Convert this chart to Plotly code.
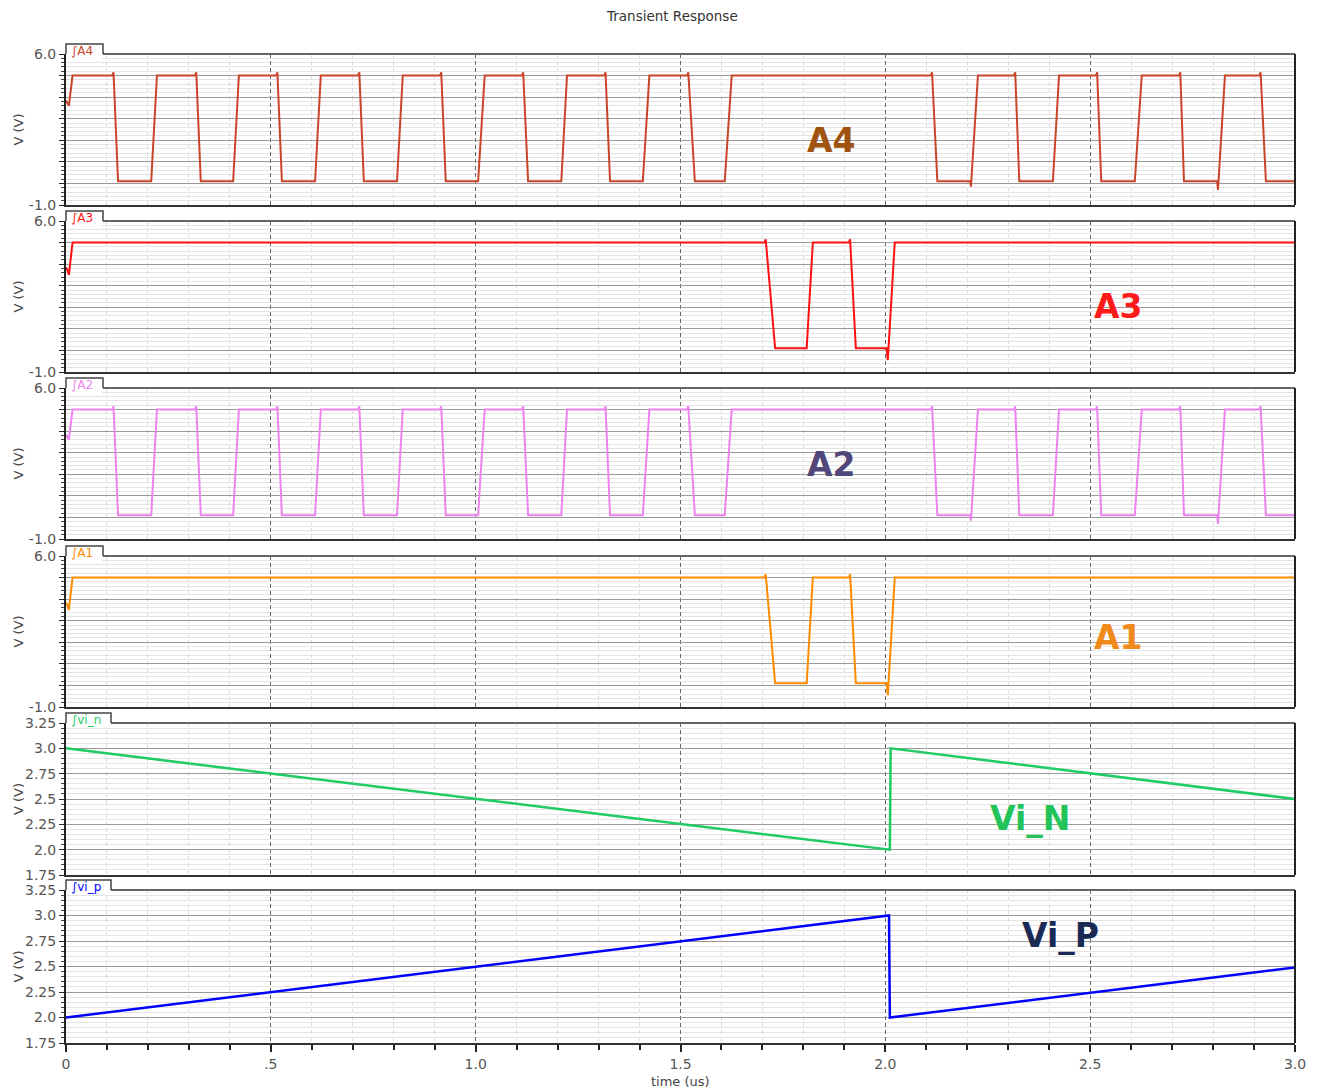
import plotly.graph_objects as go
from plotly.subplots import make_subplots

# ---------------- data ----------------
time_ticks = [0, 0.5, 1.0, 1.5, 2.0, 2.5, 3.0]
time_ticktext = ["0", ".5", "1.0", "1.5", "2.0", "2.5", "3.0"]

A4_t = [0.0, 0.004, 0.007, 0.016,
        0.113, 0.116, 0.127, 0.208, 0.222,
        0.315, 0.318, 0.329, 0.408, 0.422,
        0.513, 0.516, 0.527, 0.608, 0.622,
        0.713, 0.716, 0.727, 0.808, 0.822,
        0.913, 0.916, 0.927, 1.006, 1.022,
        1.113, 1.116, 1.128, 1.209, 1.223,
        1.314, 1.317, 1.328, 1.408, 1.424,
        1.516, 1.519, 1.535, 1.608, 1.625,
        2.111, 2.114, 2.127, 2.207, 2.209, 2.226,
        2.314, 2.317, 2.327, 2.409, 2.424,
        2.514, 2.517, 2.527, 2.609, 2.626,
        2.717, 2.720, 2.729, 2.810, 2.812, 2.829,
        2.913, 2.916, 2.929, 3.0]
A4_v = [3.85, 3.7, 3.6, 5.0,
        5.0, 5.15, 0.1, 0.1, 5.0,
        5.0, 5.15, 0.1, 0.1, 5.0,
        5.0, 5.15, 0.1, 0.1, 5.0,
        5.0, 5.15, 0.1, 0.1, 5.0,
        5.0, 5.15, 0.1, 0.1, 5.0,
        5.0, 5.15, 0.1, 0.1, 5.0,
        5.0, 5.15, 0.1, 0.1, 5.0,
        5.0, 5.15, 0.1, 0.1, 5.0,
        5.0, 5.15, 0.1, 0.1, -0.15, 5.0,
        5.0, 5.15, 0.1, 0.1, 5.0,
        5.0, 5.15, 0.1, 0.1, 5.0,
        5.0, 5.15, 0.1, 0.1, -0.3, 5.0,
        5.0, 5.15, 0.1, 0.1]

A3_t = [0.0, 0.004, 0.007, 0.016, 1.705, 1.708, 1.731, 1.808, 1.823,
        1.911, 1.914, 1.928, 2.003, 2.006, 2.023, 3.0]
A3_v = [3.85, 3.7, 3.5, 5.0, 5.0, 5.15, 0.1, 0.1, 5.0,
        5.0, 5.15, 0.1, 0.1, -0.45, 5.0, 5.0]

A2_t = list(A4_t)
A2_v = list(A4_v)

A1_t = list(A3_t)
A1_v = list(A3_v)

Vin_t = [0.0, 2.011, 2.013, 3.0]
Vin_v = [3.0, 2.0, 3.0, 2.5]

Vip_t = [0.0, 2.009, 2.011, 3.0]
Vip_v = [2.0, 3.0, 2.0, 2.49]

A_ticks = [-1, 0, 1, 2, 3, 4, 5, 6]
A_ticktext = ["-1.0", "", "", "", "", "", "", "6.0"]
Vi_ticks = [1.75, 2.0, 2.25, 2.5, 2.75, 3.0, 3.25]
Vi_ticktext = ["1.75", "2.0", "2.25", "2.5", "2.75", "3.0", "3.25"]

names = ["A4", "A3", "A2", "A1", "vi_n", "vi_p"]
big_labels = ["A4", "A3", "A2", "A1", "Vi_N", "Vi_P"]
line_colors = ["#C9442A", "#FF1010", "#EE82EE", "#FF8C00", "#1FCC62", "#0000FF"]
label_colors = ["#A0520F", "#FF1A1A", "#51467A", "#F08A1A", "#22C45A", "#1B2A55"]
series = [(A4_t, A4_v), (A3_t, A3_v), (A2_t, A2_v), (A1_t, A1_v), (Vin_t, Vin_v), (Vip_t, Vip_v)]

# ---------------- layout geometry (pixels) ----------------
W, H = 1320, 1092
L, R, T, B = 66, 1295, 54, 1043
panels_px = [(54, 205), (221, 372), (388, 539), (556, 707), (723, 875), (890, 1043)]
tab_right_px = [103, 103, 103, 103, 111, 111]
label_pos_px = [(831, 140), (1118, 306), (831, 465), (1118, 637), (1030, 818), (1060, 935)]


def px_x(px):
    return (px - L) / (R - L)


def px_y(py):
    return (B - py) / (B - T)


fig = make_subplots(rows=6, cols=1, shared_xaxes=True, vertical_spacing=0.02)

FONT = "DejaVu Sans"
for i, ((t, v), col) in enumerate(zip(series, line_colors)):
    fig.add_trace(go.Scatter(x=t, y=v, mode="lines", line=dict(color=col, width=2.5 if i >= 4 else 2),
                             showlegend=False, hoverinfo="skip"), row=i + 1, col=1)

annotations = []
shapes = []
for i in range(6):
    top, bot = panels_px[i]
    tr = tab_right_px[i]
    yk = "yaxis" if i == 0 else f"yaxis{i+1}"
    xk = "xaxis" if i == 0 else f"xaxis{i+1}"
    is_vi = i >= 4
    fig.layout[yk].update(
        domain=[px_y(bot), px_y(top)],
        range=[1.75, 3.25] if is_vi else [-1, 6],
        tickmode="array",
        tickvals=Vi_ticks if is_vi else A_ticks,
        ticktext=Vi_ticktext if is_vi else A_ticktext,
        ticks="outside", ticklen=5, tickcolor="#222", tickwidth=1,
        tickfont=dict(family=FONT, size=14, color="#555"),
        showgrid=True, gridcolor="#9a9a9a", gridwidth=1,
        minor=dict(dtick=0.05 if is_vi else 0.2, tick0=0, showgrid=True, gridcolor="#e4e4e4", gridwidth=1,
                   ticks="outside", ticklen=3, tickcolor="#444"),
        showline=True, linecolor="#222", linewidth=2, mirror=False,
        zeroline=False, fixedrange=True,
    )
    last = (i == 5)
    fig.layout[xk].update(
        range=[0, 3],
        tickmode="array", tickvals=time_ticks, ticktext=time_ticktext,
        showticklabels=last,
        ticks="outside" if last else "", ticklen=7, tickcolor="#222", tickwidth=1.5,
        tickfont=dict(family=FONT, size=14, color="#555"),
        showgrid=True, gridcolor="#666", griddash="4px,3px", gridwidth=1,
        minor=dict(dtick=0.1, tick0=0, showgrid=True, gridcolor="#dcdcdc", gridwidth=1,
                   ticks="outside" if last else "", ticklen=5, tickcolor="#222"),
        showline=True, linecolor="#333", linewidth=2, mirror=False,
        zeroline=False, fixedrange=True,
    )
    # panel top and right borders
    shapes.append(dict(type="line", xref="paper", yref="paper", x0=px_x(tr), x1=1, y0=px_y(top), y1=px_y(top),
                       line=dict(color="#666", width=2), layer="above"))
    shapes.append(dict(type="line", xref="paper", yref="paper", x0=1, x1=1, y0=px_y(bot), y1=px_y(top),
                       line=dict(color="#222", width=2), layer="above"))
    # tab label box
    shapes.append(dict(type="rect", xref="paper", yref="paper", x0=px_x(67), x1=px_x(tr - 1),
                       y0=px_y(top + 5), y1=px_y(top - 10), fillcolor="white",
                       line=dict(width=0), layer="above"))
    shapes.append(dict(type="path", xref="paper", yref="paper",
                       path=f"M {px_x(66)},{px_y(top)} L {px_x(66)},{px_y(top-10)} L {px_x(tr)},{px_y(top-10)} L {px_x(tr)},{px_y(top)}",
                       line=dict(color="#444", width=1.5), layer="above"))
    annotations.append(dict(text="\u222b" + names[i], xref="paper", yref="paper", x=px_x(69), y=px_y(top - 3),
                            xanchor="left", yanchor="middle", showarrow=False,
                            font=dict(family=FONT, size=12, color=line_colors[i])))
    # y title
    annotations.append(dict(text="V (V)", xref="paper", yref="paper", x=px_x(18), y=px_y((top + bot) / 2),
                            textangle=-90, xanchor="center", yanchor="middle", showarrow=False,
                            font=dict(family=FONT, size=13, color="#444")))
    # big label
    lx, ly = label_pos_px[i]
    annotations.append(dict(text=f"<b>{big_labels[i]}</b>", xref="paper", yref="paper", x=px_x(lx), y=px_y(ly),
                            xanchor="center", yanchor="middle", showarrow=False,
                            font=dict(family=FONT, size=33, color=label_colors[i])))

annotations.append(dict(text="Transient Response", xref="paper", yref="paper", x=px_x(672), y=px_y(16),
                        xanchor="center", yanchor="middle", showarrow=False,
                        font=dict(family=FONT, size=13.5, color="#333")))
annotations.append(dict(text="time (us)", xref="paper", yref="paper", x=px_x(680), y=px_y(1081),
                        xanchor="center", yanchor="middle", showarrow=False,
                        font=dict(family=FONT, size=13, color="#444")))

fig.update_layout(
    width=W, height=H,
    margin=dict(l=L, r=W - R, t=T, b=H - B),
    paper_bgcolor="white", plot_bgcolor="white",
    annotations=annotations, shapes=shapes,
    showlegend=False,
)

fig.write_html("out.html", config={"displayModeBar": False},
               post_script="document.body.style.margin='0';document.body.style.overflow='hidden';")
